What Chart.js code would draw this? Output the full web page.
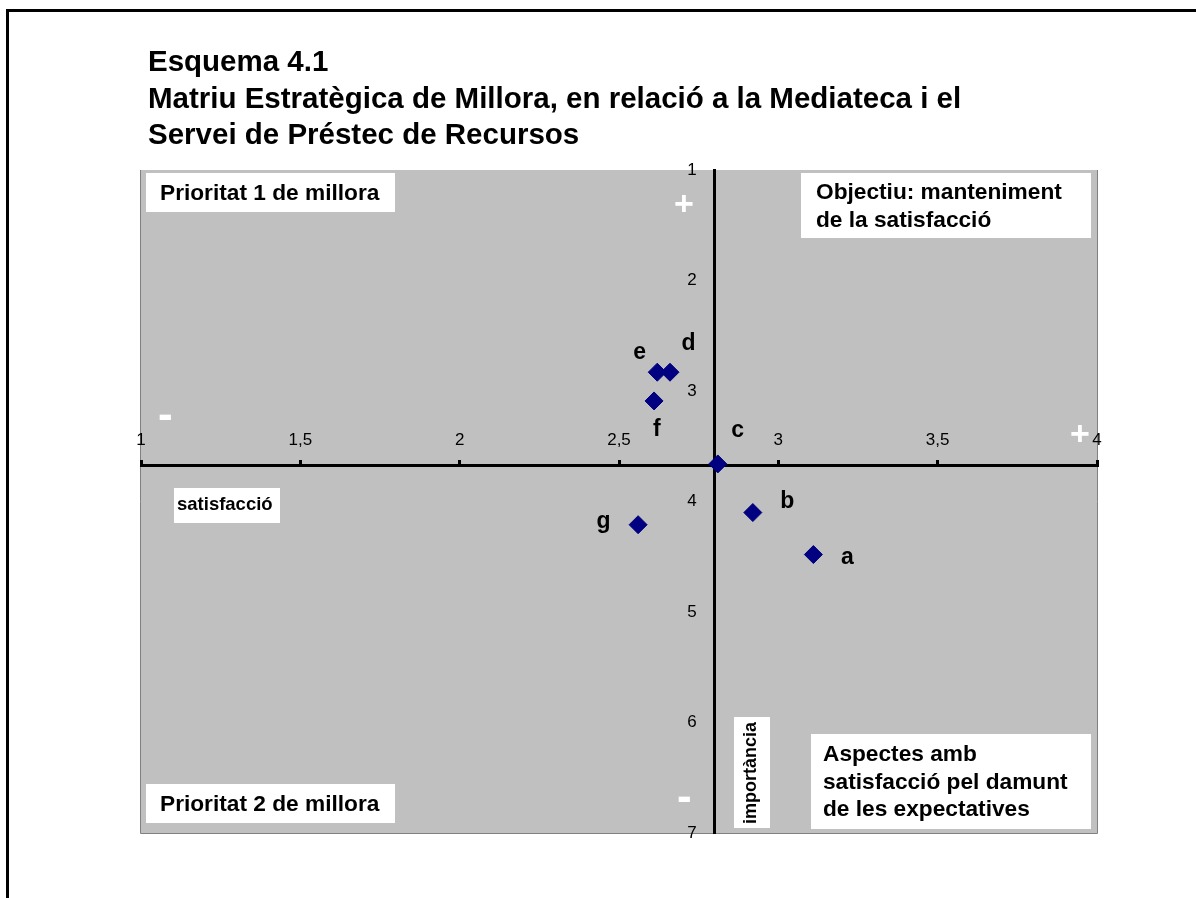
<!DOCTYPE html>
<html>
<head>
<meta charset="utf-8">
<script src="https://cdn.jsdelivr.net/npm/chart.js@4.4.0/dist/chart.umd.min.js"></script>
<style>
  html, body { margin: 0; padding: 0; background: #fff; }
  #wrap { width: 1196px; height: 898px; }
</style>
</head>
<body>
<div id="wrap"><canvas id="matrix" width="1196" height="898"></canvas></div>
<script>
// values: x = satisfacció, y = importància
const pointLabels = ["a", "b", "c", "d", "e", "f", "g"];
const satisfaccio = [3.11, 2.92, 2.81, 2.66, 2.62, 2.61, 2.56];
const importancia = [4.48, 4.10, 3.66, 2.83, 2.83, 3.09, 4.21];

const xTickValues = [1, 1.5, 2, 2.5, 3, 3.5, 4];
const xTickLabels = ["1", "1,5", "2", "2,5", "3", "3,5", "4"];
const yTickValues = [1, 2, 3, 4, 5, 6, 7];
const yTickLabels = ["1", "2", "3", "4", "5", "6", "7"];

// where the two axes cross
const crossSatisfaccio = 2.8;
const crossImportancia = 3.67;

const titleLines = [
  "Esquema 4.1",
  "Matriu Estratègica de Millora, en relació a la Mediateca i el",
  "Servei de Préstec de Recursos",
];

const FONT = '"Liberation Sans", Arial, Helvetica, sans-serif';

// label offsets from each marker (px)
const labelOffsets = [[34, 3], [35, -14], [20, -33], [18, -31], [-18, -20], [3, 26], [-35, -1]];

// white boxes inside the plot
const notes = [
  { lines: ["Prioritat 1 de millora"], box: [146, 173, 249, 39], x: 160, y: 200, size: 22.7 },
  { lines: ["Objectiu: manteniment", "de la satisfacció"], box: [801, 173, 290, 65], x: 816, y: 199, size: 22.7 },
  { lines: ["Aspectes amb", "satisfacció pel damunt", "de les expectatives"], box: [811, 734, 280, 95], x: 823, y: 761, size: 22.7 },
  { lines: ["Prioritat 2 de millora"], box: [146, 784, 249, 39], x: 160, y: 811, size: 22.7 },
  { lines: ["satisfacció"], box: [174, 488, 106, 35], x: 177, y: 510, size: 18.5 },
];

// + / - signs
const signs = [
  { t: "+", x: 684, y: 203 },
  { t: "+", x: 1080, y: 433 },
  { t: "-", x: 165, y: 417 },
  { t: "-", x: 684, y: 799 },
];

// draws text so its ink is centred on (cx, cy)
function drawCentered(ctx, text, cx, cy) {
  ctx.textAlign = "left";
  ctx.textBaseline = "alphabetic";
  const m = ctx.measureText(text);
  const x = cx - (m.actualBoundingBoxRight - m.actualBoundingBoxLeft) / 2;
  const y = cy + (m.actualBoundingBoxAscent - m.actualBoundingBoxDescent) / 2;
  ctx.fillText(text, x, y);
}

const backdrop = {
  id: "backdrop",
  beforeDraw(chart) {
    const { ctx, chartArea: a } = chart;
    ctx.save();
    ctx.fillStyle = "#fff";
    ctx.fillRect(0, 0, chart.width, chart.height);

    // page frame
    ctx.strokeStyle = "#000";
    ctx.lineWidth = 3;
    ctx.strokeRect(7.5, 10.5, 1400, 1000);

    // title
    ctx.fillStyle = "#000";
    ctx.font = "bold 29.5px " + FONT;
    ctx.textAlign = "left";
    ctx.textBaseline = "alphabetic";
    const base = [71, 107.5, 144];
    titleLines.forEach((t, i) => ctx.fillText(t, 148, base[i]));

    // plot area
    ctx.fillStyle = "#c0c0c0";
    ctx.fillRect(a.left, a.top, a.right - a.left, a.bottom - a.top);
    ctx.strokeStyle = "#808080";
    ctx.lineWidth = 1;
    ctx.beginPath();
    ctx.moveTo(a.left - 0.5, a.top);
    ctx.lineTo(a.left - 0.5, a.bottom + 0.5);
    ctx.lineTo(a.right + 0.5, a.bottom + 0.5);
    ctx.lineTo(a.right + 0.5, a.top);
    ctx.stroke();
    ctx.restore();
  },
  afterDatasetsDraw(chart) {
    const ctx = chart.ctx;
    ctx.save();

    notes.forEach((n) => {
      const [bx, by, bw, bh] = n.box;
      ctx.fillStyle = "#fff";
      ctx.fillRect(bx, by, bw, bh);
      ctx.fillStyle = "#000";
      ctx.font = "bold " + n.size + "px " + FONT;
      ctx.textAlign = "left";
      ctx.textBaseline = "alphabetic";
      n.lines.forEach((l, i) => ctx.fillText(l, n.x, n.y + i * 27.5));
    });

    // vertical axis name
    ctx.fillStyle = "#fff";
    ctx.fillRect(734, 717, 36, 111);
    ctx.fillStyle = "#000";
    ctx.font = "bold 18px " + FONT;
    ctx.translate(751, 772);
    ctx.rotate(-Math.PI / 2);
    drawCentered(ctx, "importància", 0, 0);
    ctx.setTransform(1, 0, 0, 1, 0, 0);

    ctx.fillStyle = "#fff";
    signs.forEach((s) => {
      ctx.font = s.t === "+" ? "bold 34px " + FONT : "bold 44px " + FONT;
      drawCentered(ctx, s.t, s.x, s.y);
    });

    // point letters
    ctx.fillStyle = "#000";
    ctx.font = "bold 23px " + FONT;
    const meta = chart.getDatasetMeta(0);
    meta.data.forEach((pt, i) => {
      const [dx, dy] = labelOffsets[i];
      drawCentered(ctx, pointLabels[i], pt.x + dx, pt.y + dy);
    });
    ctx.restore();
  },
};

const tickFont = { family: FONT, size: 17 };

new Chart(document.getElementById("matrix"), {
  type: "scatter",
  data: {
    datasets: [
      {
        data: satisfaccio.map((x, i) => ({ x: x, y: importancia[i] })),
        backgroundColor: "#000080",
        borderColor: "#000080",
        borderWidth: 1,
        pointStyle: "rectRot",
        pointRadius: 9,
        pointHoverRadius: 9,
      },
    ],
  },
  options: {
    responsive: false,
    animation: false,
    devicePixelRatio: 1,
    layout: { padding: { left: 141, right: 99, top: 170, bottom: 65 } },
    plugins: {
      legend: { display: false },
      tooltip: { enabled: false },
    },
    scales: {
      x: {
        type: "linear",
        min: 1,
        max: 4,
        position: { y: crossImportancia },
        border: { display: true, color: "#000", width: 3 },
        grid: {
          display: true,
          drawOnChartArea: false,
          drawTicks: true,
          tickLength: -7,
          lineWidth: 3,
          color: "#000",
        },
        ticks: {
          stepSize: 0.5,
          padding: -28,
          color: "#000",
          font: tickFont,
          maxRotation: 0,
          autoSkip: false,
          callback: (v) => xTickLabels[xTickValues.indexOf(v)],
        },
      },
      y: {
        type: "linear",
        min: 1,
        max: 7,
        reverse: true,
        position: { x: crossSatisfaccio },
        border: { display: true, color: "#000", width: 3 },
        grid: { display: false },
        ticks: { display: false, stepSize: 1 },
      },
      yLabels: {
        type: "linear",
        axis: "y",
        min: 1,
        max: 7,
        reverse: true,
        position: { x: 2.744 },
        border: { display: false },
        grid: { display: false, drawTicks: false },
        ticks: {
          stepSize: 1,
          color: "#000",
          font: tickFont,
          autoSkip: false,
          callback: (v) => yTickLabels[yTickValues.indexOf(v)],
        },
      },
    },
  },
  plugins: [backdrop],
});
</script>
</body>
</html>
